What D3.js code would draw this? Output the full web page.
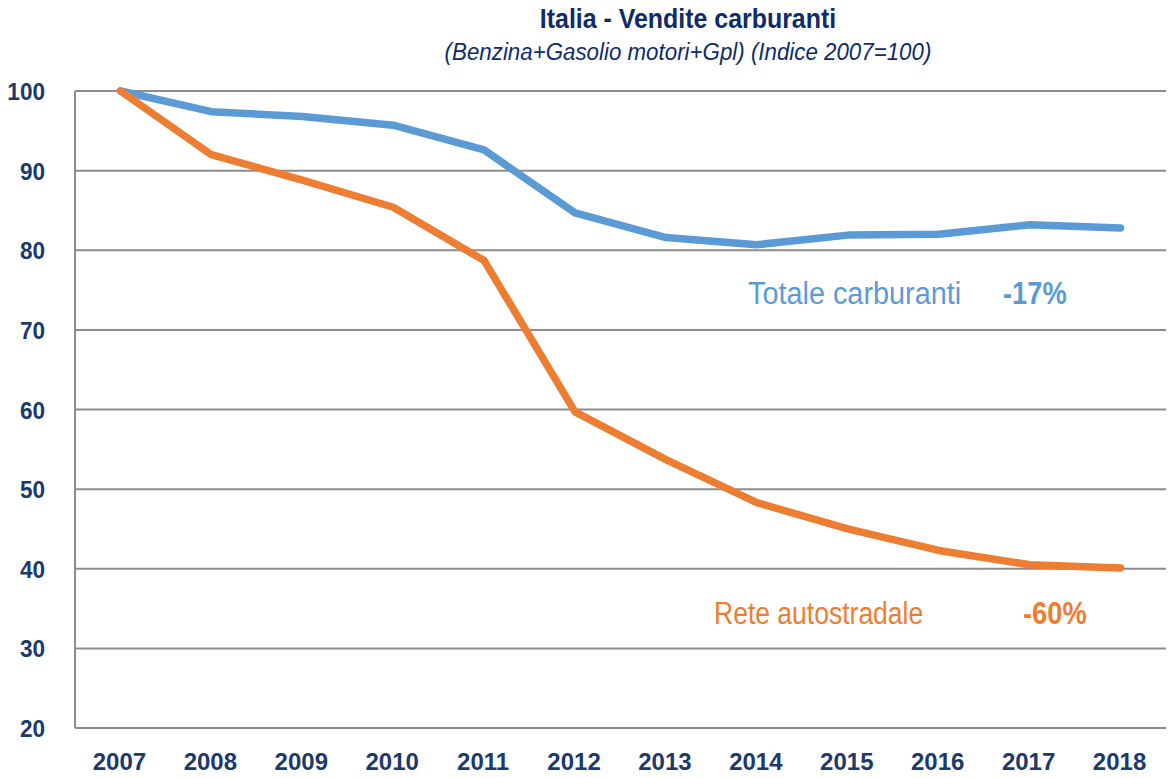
<!DOCTYPE html>
<html>
<head>
<meta charset="utf-8">
<script src="https://cdn.jsdelivr.net/npm/d3@7.9.0/dist/d3.min.js"></script>
<style>
  body { margin: 0; background: #fff; }
  svg text { font-family: "Liberation Sans", Arial, sans-serif; }
</style>
</head>
<body>
<svg id="chart" width="1172" height="778"></svg>
<script>
const years = ['2007', '2008', '2009', '2010', '2011', '2012', '2013', '2014', '2015', '2016', '2017', '2018'];
const totaleCarburanti = [100, 97.4, 96.8, 95.7, 92.6, 84.7, 81.6, 80.7, 81.9, 82.0, 83.2, 82.8];
const reteAutostradale = [100, 92.0, 88.8, 85.4, 78.7, 59.7, 53.7, 48.3, 45.0, 42.3, 40.5, 40.1];
const yTicks = [20, 30, 40, 50, 60, 70, 80, 90, 100];

const navy = '#1b3a6b';
const blue = '#5b9bd5';
const orange = '#ed7d31';

const svg = d3.select('#chart');
const margin = { left: 75, right: 6, top: 91, bottom: 50 };
const width = 1172, height = 778;

const x = d3.scaleBand().domain(years).range([margin.left, width - margin.right]);
const y = d3.scaleLinear().domain([20, 100]).range([height - margin.bottom, margin.top]);

// squeeze text horizontally to mimic the condensed font of the original
function squeeze(sel, factor) {
  sel.each(function () {
    const w = this.getComputedTextLength();
    d3.select(this).attr('textLength', w * factor).attr('lengthAdjust', 'spacingAndGlyphs');
  });
  return sel;
}

// gridlines
svg.append('g')
  .selectAll('line')
  .data(yTicks)
  .join('line')
  .attr('x1', margin.left).attr('x2', width - margin.right)
  .attr('y1', d => y(d)).attr('y2', d => y(d))
  .attr('stroke', '#8c8c8c').attr('stroke-width', 2);

svg.append('line')
  .attr('x1', margin.left).attr('x2', margin.left)
  .attr('y1', y(100)).attr('y2', y(20))
  .attr('stroke', '#8c8c8c').attr('stroke-width', 2);

// y axis labels
squeeze(svg.append('g')
  .selectAll('text')
  .data(yTicks)
  .join('text')
  .attr('x', 45).attr('y', d => y(d) + 9)
  .attr('text-anchor', 'end')
  .attr('font-size', 24).attr('font-weight', 'bold')
  .attr('fill', navy)
  .text(d => d), 0.94);

// x axis labels
svg.append('g')
  .selectAll('text')
  .data(years)
  .join('text')
  .attr('x', d => x(d) + x.bandwidth() / 2 - 1).attr('y', 770)
  .attr('text-anchor', 'middle')
  .attr('font-size', 24).attr('font-weight', 'bold')
  .attr('fill', navy)
  .text(d => d);

const line = d3.line()
  .x((d, i) => x(years[i]) + x.bandwidth() / 2)
  .y(d => y(d));

svg.append('path')
  .datum(totaleCarburanti)
  .attr('d', line)
  .attr('fill', 'none').attr('stroke', blue)
  .attr('stroke-width', 7.5).attr('stroke-linecap', 'round').attr('stroke-linejoin', 'round');

svg.append('path')
  .datum(reteAutostradale)
  .attr('d', line)
  .attr('fill', 'none').attr('stroke', orange)
  .attr('stroke-width', 7.5).attr('stroke-linecap', 'round').attr('stroke-linejoin', 'round');

// titles
squeeze(svg.append('text')
  .attr('x', 688).attr('y', 28)
  .attr('text-anchor', 'middle')
  .attr('font-size', 28).attr('font-weight', 'bold')
  .attr('fill', '#0f2b69')
  .text('Italia - Vendite carburanti'), 0.89);

squeeze(svg.append('text')
  .attr('x', 688).attr('y', 60)
  .attr('text-anchor', 'middle')
  .attr('font-size', 23).attr('font-style', 'italic')
  .attr('fill', '#0f2b69')
  .text('(Benzina+Gasolio motori+Gpl) (Indice 2007=100)'), 0.97);

// annotations
squeeze(svg.append('text')
  .attr('x', 748).attr('y', 304)
  .attr('font-size', 31).attr('fill', blue)
  .text('Totale carburanti'), 0.93);
squeeze(svg.append('text')
  .attr('x', 1003).attr('y', 304)
  .attr('font-size', 31).attr('font-weight', 'bold').attr('fill', blue)
  .text('-17%'), 0.88);

squeeze(svg.append('text')
  .attr('x', 714).attr('y', 624)
  .attr('font-size', 31).attr('fill', orange)
  .text('Rete autostradale'), 0.855);
squeeze(svg.append('text')
  .attr('x', 1023).attr('y', 624)
  .attr('font-size', 31).attr('font-weight', 'bold').attr('fill', orange)
  .text('-60%'), 0.88);
</script>
</body>
</html>
